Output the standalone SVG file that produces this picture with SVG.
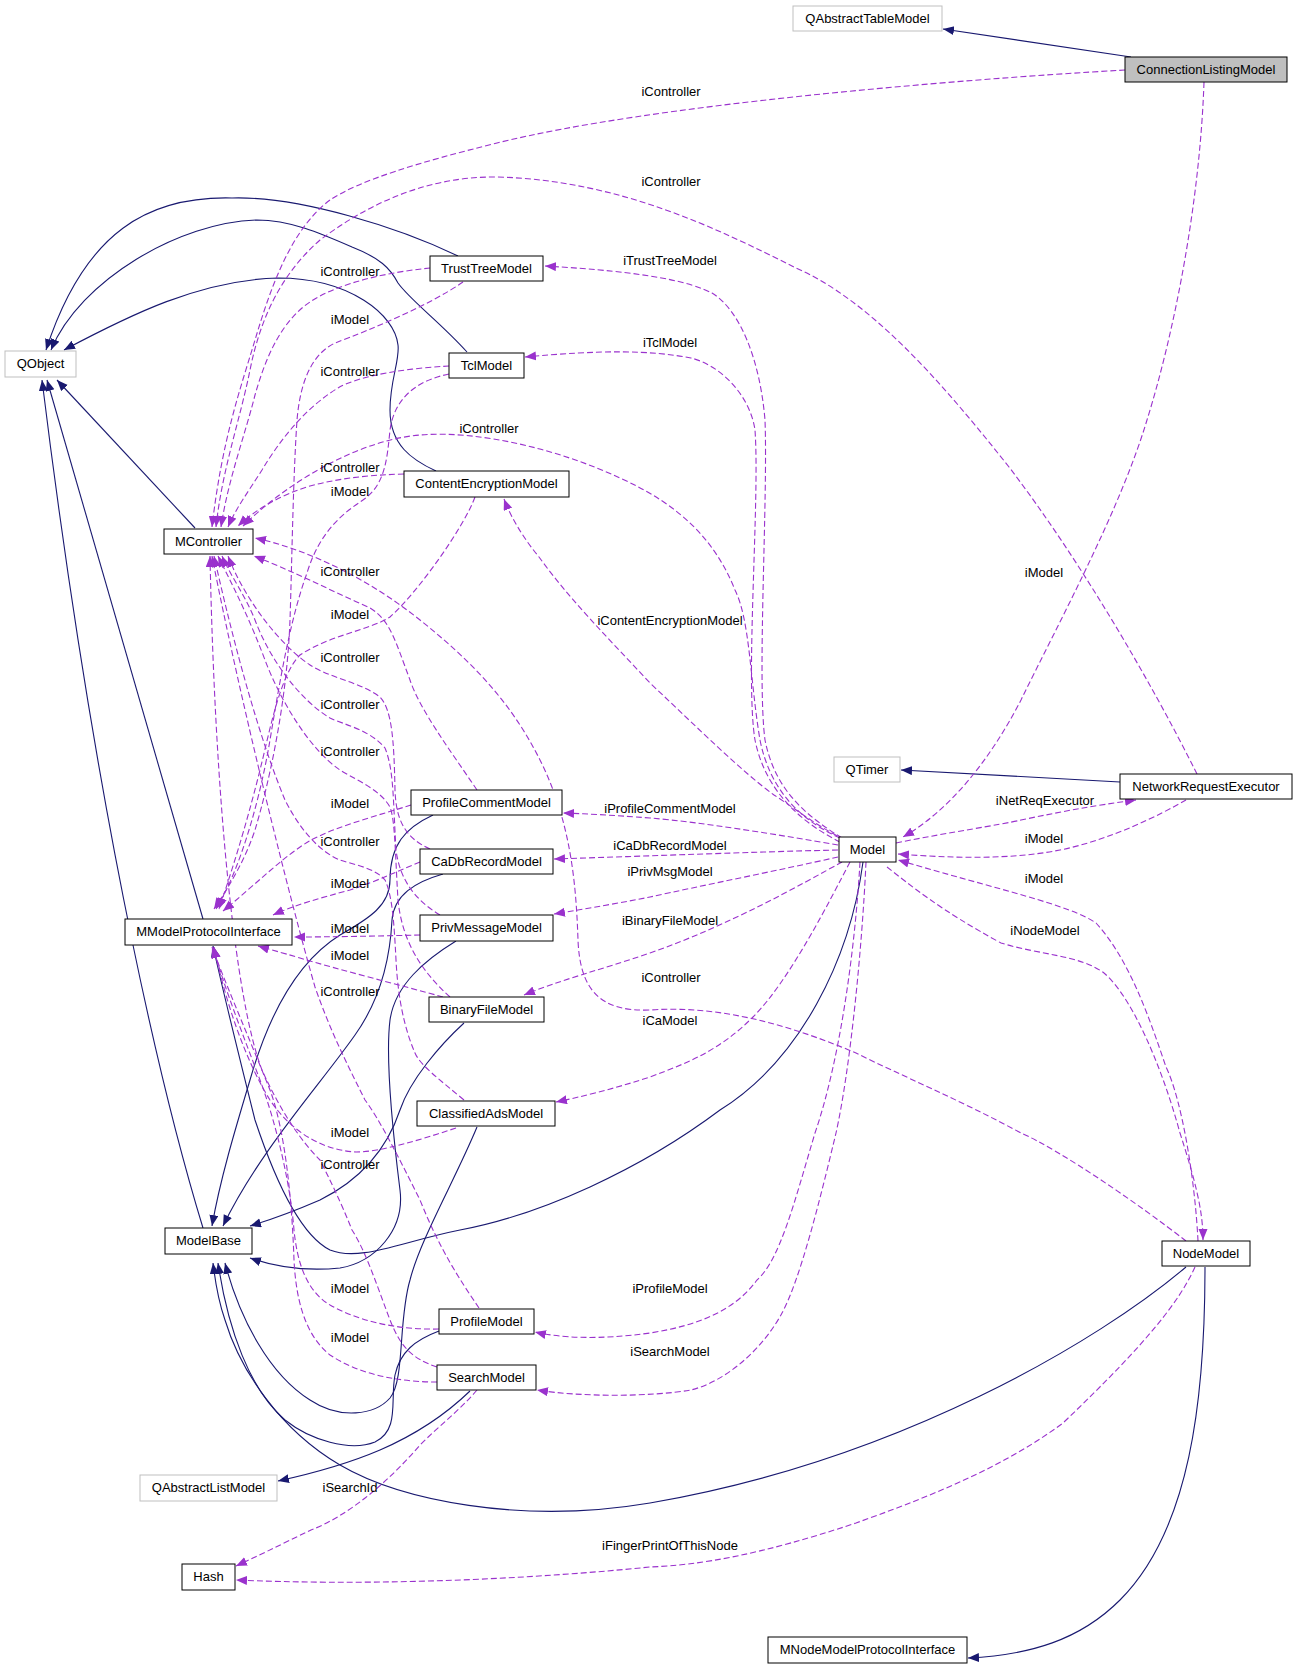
<svg xmlns="http://www.w3.org/2000/svg" width="1297" height="1669" viewBox="0 0 1297 1669">
<style>
.n rect{fill:#fff;stroke:#000;stroke-width:1}
.g rect{fill:#fff;stroke:#bfbfbf;stroke-width:1}
.cur rect{fill:#bfbfbf;stroke:#000;stroke-width:1}
text{font-family:"Liberation Sans",Arial,sans-serif;font-size:13px;fill:#000}
.t{text-anchor:middle}
.inh{fill:none;stroke:#191970;stroke-width:1.1;marker-end:url(#an)}
.use{fill:none;stroke:#9a32cd;stroke-width:1.1;stroke-dasharray:6,3;marker-end:url(#ap)}
.lbl{text-anchor:middle}
</style>
<defs>
<marker id="an" markerUnits="userSpaceOnUse" markerWidth="12" markerHeight="10" refX="11" refY="4.5" orient="auto"><path d="M0,0 L11,4.5 L0,9 z" fill="#191970"/></marker>
<marker id="ap" markerUnits="userSpaceOnUse" markerWidth="12" markerHeight="10" refX="11" refY="4.5" orient="auto"><path d="M0,0 L11,4.5 L0,9 z" fill="#9a32cd"/></marker>
</defs>
<rect width="1297" height="1669" fill="#fff"/>
<g id="edges">
<path class="inh" d="M1131,57 L943,29"/>
<path class="inh" d="M458,256 C400,228 300,196 232,198 C150,196 85,230 46,350"/>
<path class="inh" d="M467,352 C440,322 410,300 398,283 C390,268 380,258 352,247 C320,233 290,220 257,220 C180,222 80,280 51,350"/>
<path class="inh" d="M436,471 C412,460 390,445 390,410 C390,380 400,360 398,345 C395,315 350,278 278,278 C200,280 130,315 64,350"/>
<path class="inh" d="M195,528 L57,380"/>
<path class="inh" d="M203,919 L47,380"/>
<path class="inh" d="M203,1228 C170,1120 100,850 42,380"/>
<path class="inh" d="M433,815 C405,828 390,845 390,880 C390,905 370,918 340,935 C300,960 270,1010 250,1080 C235,1130 220,1180 212,1226"/>
<path class="inh" d="M443,874 C415,882 394,895 392,920 C390,960 380,1000 355,1035 C320,1085 260,1150 223,1226"/>
<path class="inh" d="M456,941 C425,960 395,985 390,1020 C385,1060 395,1150 400,1190 C405,1230 375,1262 340,1268 C300,1272 270,1265 250,1258"/>
<path class="inh" d="M464,1023 C440,1045 410,1080 400,1110 C390,1140 370,1175 320,1200 C290,1213 270,1220 250,1226"/>
<path class="inh" d="M477,1127 C455,1180 420,1240 410,1280 C398,1320 405,1380 390,1398 C375,1415 340,1420 310,1400 C270,1375 240,1320 225,1263"/>
<path class="inh" d="M439,1331 C415,1340 400,1352 395,1375 C390,1400 400,1430 375,1442 C350,1452 310,1440 285,1420 C250,1390 228,1330 218,1263"/>
<path class="inh" d="M1186,1267 C1100,1340 900,1460 650,1503 C520,1525 400,1500 340,1465 C280,1430 240,1370 225,1320 C218,1300 215,1280 213,1263"/>
<path class="inh" d="M863,862 C850,960 800,1060 720,1110 C640,1170 540,1215 460,1230 C400,1242 360,1262 330,1250 C300,1235 275,1180 255,1120 C240,1060 225,1000 213,946"/>
<path class="inh" d="M470,1391 C440,1420 410,1437 380,1450 C345,1465 310,1474 278,1481"/>
<path class="inh" d="M1120,782 L901,770"/>
<path class="inh" d="M1205,1267 C1205,1400 1190,1530 1120,1600 C1080,1640 1030,1655 968,1658"/>
<path class="use" d="M1125,70 C950,80 650,105 497,143 C420,162 360,180 330,200 C290,230 270,290 255,340 C240,390 222,440 212,527"/>
<path class="use" d="M1197,774 C1150,680 1080,560 1009,467 C940,380 870,300 794,267 C720,230 620,180 497,177 C420,176 360,210 320,240 C280,275 260,320 250,370 C240,420 222,470 216,527"/>
<path class="use" d="M430,268 C390,272 340,282 310,302 C280,322 265,360 255,395 C245,435 228,480 221,527"/>
<path class="use" d="M463,282 C430,305 370,330 335,343 C310,355 300,385 297,420 C293,480 292,560 290,620 C287,700 270,780 255,830 C245,860 230,885 214,909"/>
<path class="use" d="M449,366 C410,368 360,375 338,388 C305,408 280,440 262,470 C248,492 235,510 228,527"/>
<path class="use" d="M449,374 C420,380 395,395 390,430 C387,460 385,485 363,500 C345,512 320,530 307,573 C290,620 280,680 270,740 C260,800 240,870 216,909"/>
<path class="use" d="M404,474 C370,475 340,478 310,486 C280,495 255,510 238,526"/>
<path class="use" d="M475,497 C465,525 420,590 390,617 C370,630 330,635 300,655 C280,675 270,730 260,770 C245,830 232,870 219,909"/>
<path class="use" d="M840,838 C800,820 770,790 760,740 C750,680 750,620 735,590 C715,540 680,505 620,478 C560,450 480,430 420,435 C360,440 290,480 243,526"/>
<path class="use" d="M842,838 C805,815 775,790 765,740 C757,680 768,500 765,420 C760,360 740,310 712,293 C690,282 650,272 545,266"/>
<path class="use" d="M840,842 C800,822 765,790 755,740 C745,680 760,500 755,430 C750,395 720,365 691,358 C650,350 600,350 525,357"/>
<path class="use" d="M845,840 C815,825 790,805 774,795 C740,770 700,730 650,683 C610,640 570,600 539,557 C525,540 512,520 504,499"/>
<path class="use" d="M838,845 C780,835 700,822 650,818 C610,815 590,814 563,813"/>
<path class="use" d="M838,850 C750,852 650,856 554,859"/>
<path class="use" d="M838,857 C780,870 700,886 650,897 C620,903 590,908 554,914"/>
<path class="use" d="M842,862 C800,885 730,925 650,953 C600,970 560,980 524,995"/>
<path class="use" d="M850,862 C830,900 790,980 753,1017 C720,1050 690,1062 650,1077 C610,1090 580,1097 556,1102"/>
<path class="use" d="M860,862 C855,950 840,1060 815,1133 C795,1200 780,1260 757,1280 C735,1310 700,1325 650,1333 C600,1340 560,1338 535,1332"/>
<path class="use" d="M866,862 C862,950 850,1070 836,1133 C820,1200 800,1280 782,1313 C765,1345 730,1380 691,1390 C650,1397 580,1397 537,1390"/>
<path class="use" d="M896,843 C950,832 1000,825 1021,820 C1060,812 1090,806 1136,800"/>
<path class="use" d="M887,867 C910,885 940,910 1001,943 C1040,955 1080,955 1104,973 C1130,995 1160,1060 1180,1133 C1195,1180 1203,1210 1203,1240"/>
<path class="use" d="M1204,82 C1200,200 1175,330 1147,420 C1120,510 1060,620 1021,700 C990,760 950,810 903,837"/>
<path class="use" d="M1186,800 C1160,815 1110,840 1060,850 C1010,860 950,858 898,854"/>
<path class="use" d="M1198,1241 C1195,1180 1182,1100 1166,1067 C1150,1020 1130,960 1096,923 C1070,905 1000,890 898,860"/>
<path class="use" d="M1186,1241 C1140,1205 1060,1150 1021,1133 C960,1100 900,1075 856,1053 C790,1025 720,1005 650,1010 C600,1012 580,990 578,940 C576,880 570,820 540,760 C510,700 470,660 420,620 C370,580 310,550 255,538"/>
<path class="use" d="M477,790 C450,750 420,710 410,680 C395,640 390,620 370,608 C330,590 290,570 254,556"/>
<path class="use" d="M411,805 C380,815 340,825 311,840 C285,855 255,885 223,911"/>
<path class="use" d="M420,862 C400,870 380,880 350,890 C320,898 295,905 273,915"/>
<path class="use" d="M420,935 C380,936 330,937 294,937"/>
<path class="use" d="M443,997 C400,985 340,970 300,958 C280,952 268,949 258,946"/>
<path class="use" d="M456,1128 C420,1140 380,1152 356,1152 C320,1150 290,1130 270,1100 C245,1060 225,1000 214,947"/>
<path class="use" d="M439,1329 C400,1330 360,1322 330,1305 C305,1290 297,1260 294,1230 C290,1180 275,1120 260,1080 C245,1040 225,990 213,947"/>
<path class="use" d="M437,1382 C400,1382 360,1375 330,1355 C305,1335 296,1300 294,1260 C292,1200 285,1130 270,1090 C250,1040 228,990 212,947"/>
<path class="use" d="M430,849 C405,838 396,820 395,790 C394,740 392,710 380,697 C360,682 330,678 310,665 C280,645 245,600 228,556"/>
<path class="use" d="M440,915 C415,900 400,880 396,850 C393,800 394,770 385,748 C370,730 345,725 330,718 C300,700 270,660 255,620 C245,595 230,575 222,556"/>
<path class="use" d="M450,997 C420,970 402,940 398,900 C395,850 395,820 390,807 C380,790 360,782 340,770 C310,750 280,700 265,660 C250,620 235,590 218,556"/>
<path class="use" d="M464,1100 C440,1080 420,1065 415,1053 C405,1030 398,1000 396,960 C394,920 392,895 385,880 C375,868 355,865 340,860 C320,852 300,830 285,800 C260,740 235,650 214,556"/>
<path class="use" d="M479,1308 C460,1280 440,1250 420,1200 C400,1160 380,1120 365,1100 C345,1060 330,1030 315,987 C290,900 240,700 212,556"/>
<path class="use" d="M437,1367 C410,1358 400,1345 390,1320 C375,1280 365,1250 352,1230 C340,1200 330,1180 320,1160 C300,1140 280,1110 262,1070 C235,1000 215,800 210,556"/>
<path class="use" d="M477,1390 C460,1410 440,1425 420,1445 C390,1480 350,1515 311,1530 C280,1545 260,1555 236,1566"/>
<path class="use" d="M1195,1267 C1180,1300 1150,1340 1063,1423 C1000,1470 920,1500 856,1523 C760,1555 700,1565 650,1567 C500,1582 350,1585 236,1580"/>
<text class="lbl" x="671" y="96">iController</text>
<text class="lbl" x="671" y="186">iController</text>
<text class="lbl" x="670" y="265">iTrustTreeModel</text>
<text class="lbl" x="670" y="347">iTclModel</text>
<text class="lbl" x="489" y="433">iController</text>
<text class="lbl" x="670" y="625">iContentEncryptionModel</text>
<text class="lbl" x="670" y="813">iProfileCommentModel</text>
<text class="lbl" x="670" y="850">iCaDbRecordModel</text>
<text class="lbl" x="670" y="876">iPrivMsgModel</text>
<text class="lbl" x="670" y="925">iBinaryFileModel</text>
<text class="lbl" x="671" y="982">iController</text>
<text class="lbl" x="670" y="1025">iCaModel</text>
<text class="lbl" x="670" y="1293">iProfileModel</text>
<text class="lbl" x="670" y="1356">iSearchModel</text>
<text class="lbl" x="670" y="1550">iFingerPrintOfThisNode</text>
<text class="lbl" x="350" y="1492">iSearchId</text>
<text class="lbl" x="1044" y="577">iModel</text>
<text class="lbl" x="1045" y="805">iNetReqExecutor</text>
<text class="lbl" x="1044" y="843">iModel</text>
<text class="lbl" x="1044" y="883">iModel</text>
<text class="lbl" x="1045" y="935">iNodeModel</text>
<text class="lbl" x="350" y="276">iController</text>
<text class="lbl" x="350" y="324">iModel</text>
<text class="lbl" x="350" y="376">iController</text>
<text class="lbl" x="350" y="472">iController</text>
<text class="lbl" x="350" y="496">iModel</text>
<text class="lbl" x="350" y="576">iController</text>
<text class="lbl" x="350" y="619">iModel</text>
<text class="lbl" x="350" y="662">iController</text>
<text class="lbl" x="350" y="709">iController</text>
<text class="lbl" x="350" y="756">iController</text>
<text class="lbl" x="350" y="808">iModel</text>
<text class="lbl" x="350" y="846">iController</text>
<text class="lbl" x="350" y="888">iModel</text>
<text class="lbl" x="350" y="933">iModel</text>
<text class="lbl" x="350" y="960">iModel</text>
<text class="lbl" x="350" y="996">iController</text>
<text class="lbl" x="350" y="1137">iModel</text>
<text class="lbl" x="350" y="1169">iController</text>
<text class="lbl" x="350" y="1293">iModel</text>
<text class="lbl" x="350" y="1342">iModel</text>
</g>
<g id="QAbstractTableModel" class="g"><rect x="793" y="6" width="149" height="25"/><text class="t" x="867.5" y="23">QAbstractTableModel</text></g>
<g id="ConnectionListingModel" class="cur"><rect x="1125" y="57" width="162" height="25"/><text class="t" x="1206" y="74">ConnectionListingModel</text></g>
<g id="TrustTreeModel" class="n"><rect x="430" y="256" width="113" height="25"/><text class="t" x="486.5" y="273">TrustTreeModel</text></g>
<g id="TclModel" class="n"><rect x="449" y="353" width="75" height="25"/><text class="t" x="486.5" y="370">TclModel</text></g>
<g id="QObject" class="g"><rect x="5" y="351" width="71" height="26"/><text class="t" x="40.5" y="368">QObject</text></g>
<g id="ContentEncryptionModel" class="n"><rect x="404" y="471" width="165" height="26"/><text class="t" x="486.5" y="488">ContentEncryptionModel</text></g>
<g id="MController" class="n"><rect x="164" y="529" width="89" height="25"/><text class="t" x="208.5" y="546">MController</text></g>
<g id="ProfileCommentModel" class="n"><rect x="411" y="790" width="151" height="25"/><text class="t" x="486.5" y="807">ProfileCommentModel</text></g>
<g id="QTimer" class="g"><rect x="834" y="757" width="66" height="25"/><text class="t" x="867" y="774">QTimer</text></g>
<g id="NetworkRequestExecutor" class="n"><rect x="1120" y="774" width="172" height="25"/><text class="t" x="1206" y="791">NetworkRequestExecutor</text></g>
<g id="CaDbRecordModel" class="n"><rect x="420" y="849" width="133" height="25"/><text class="t" x="486.5" y="866">CaDbRecordModel</text></g>
<g id="MModelProtocolInterface" class="n"><rect x="125" y="919" width="167" height="26"/><text class="t" x="208.5" y="936">MModelProtocolInterface</text></g>
<g id="PrivMessageModel" class="n"><rect x="420" y="915" width="133" height="26"/><text class="t" x="486.5" y="932">PrivMessageModel</text></g>
<g id="Model" class="n"><rect x="839" y="837" width="57" height="25"/><text class="t" x="867.5" y="854">Model</text></g>
<g id="BinaryFileModel" class="n"><rect x="429" y="997" width="115" height="25"/><text class="t" x="486.5" y="1014">BinaryFileModel</text></g>
<g id="ClassifiedAdsModel" class="n"><rect x="417" y="1101" width="138" height="25"/><text class="t" x="486" y="1118">ClassifiedAdsModel</text></g>
<g id="ModelBase" class="n"><rect x="165" y="1228" width="87" height="26"/><text class="t" x="208.5" y="1245">ModelBase</text></g>
<g id="ProfileModel" class="n"><rect x="439" y="1309" width="95" height="25"/><text class="t" x="486.5" y="1326">ProfileModel</text></g>
<g id="SearchModel" class="n"><rect x="437" y="1365" width="99" height="25"/><text class="t" x="486.5" y="1382">SearchModel</text></g>
<g id="QAbstractListModel" class="g"><rect x="140" y="1475" width="137" height="26"/><text class="t" x="208.5" y="1492">QAbstractListModel</text></g>
<g id="Hash" class="n"><rect x="182" y="1564" width="53" height="26"/><text class="t" x="208.5" y="1581">Hash</text></g>
<g id="NodeModel" class="n"><rect x="1162" y="1241" width="88" height="25"/><text class="t" x="1206" y="1258">NodeModel</text></g>
<g id="MNodeModelProtocolInterface" class="n"><rect x="768" y="1637" width="199" height="26"/><text class="t" x="867.5" y="1654">MNodeModelProtocolInterface</text></g>
</svg>
